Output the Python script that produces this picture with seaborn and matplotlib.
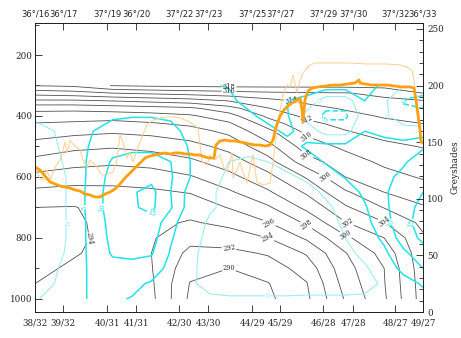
import numpy as np
import matplotlib
matplotlib.use("Agg")
import matplotlib.pyplot as plt
from matplotlib.ticker import MultipleLocator
import seaborn as sns

# ---------------------------------------------------------------- axis texts
top_labels = ["36°/16", "36°/17", "37°/19", "36°/20", "37°/22", "37°/23",
              "37°/25", "37°/27", "37°/29", "37°/30", "37°/32", "36°/33"]
bottom_labels = ["38/32", "39/32", "40/31", "41/31", "42/30", "43/30",
                 "44/29", "45/29", "46/28", "47/28", "48/27", "49/27"]
label_km = [0, 140, 360, 505, 720, 865, 1085, 1225, 1440, 1590, 1800, 1940]

# ------------------------------------------------ potential temperature (K)
theta_p = [300, 325, 350, 375, 400, 425, 450, 500, 550, 600,
           650, 700, 750, 800, 850, 900, 950, 1000]
theta_km = np.linspace(0, 1940, 11)
theta = np.array([
    [316.1, 316.4, 318.1, 318.4, 318.5, 318.6, 318.6, 318.6, 318.6, 318.7, 319.0],
    [312.8, 313.2, 314.0, 314.4, 314.8, 315.2, 315.6, 315.8, 315.9, 316.5, 318.0],
    [309.7, 309.7, 310.1, 310.6, 311.1, 312.1, 313.4, 314.4, 315.0, 315.6, 315.9],
    [306.6, 306.6, 306.9, 307.2, 307.6, 309.2, 311.9, 313.4, 314.2, 314.9, 315.3],
    [305.1, 304.9, 304.9, 305.2, 305.7, 307.2, 310.4, 312.5, 313.4, 314.2, 314.6],
    [303.9, 303.7, 303.4, 303.8, 304.4, 305.7, 308.9, 311.5, 312.6, 313.5, 314.0],
    [303.0, 302.6, 302.3, 302.6, 303.2, 304.5, 307.5, 310.5, 311.9, 312.8, 313.3],
    [301.2, 300.5, 300.2, 300.6, 301.3, 302.6, 305.3, 309.0, 310.4, 311.5, 312.1],
    [299.4, 298.7, 298.4, 298.8, 299.6, 301.0, 303.2, 307.2, 309.1, 310.4, 311.1],
    [297.4, 296.9, 296.7, 296.9, 297.8, 299.4, 301.4, 304.2, 308.0, 309.3, 310.2],
    [295.5, 295.3, 295.5, 295.7, 296.1, 297.7, 299.7, 302.3, 305.7, 308.0, 309.0],
    [294.0, 293.9, 294.8, 295.0, 294.9, 296.1, 297.7, 300.5, 303.7, 306.1, 307.8],
    [293.7, 293.8, 294.4, 294.5, 293.8, 294.5, 295.9, 298.3, 301.9, 303.9, 306.5],
    [293.6, 293.8, 294.3, 294.2, 292.6, 293.0, 294.0, 296.3, 299.6, 302.0, 305.7],
    [293.6, 293.9, 294.4, 294.0, 291.5, 291.5, 292.2, 294.2, 297.9, 300.7, 305.4],
    [293.7, 294.2, 294.7, 294.1, 290.7, 290.0, 291.0, 292.8, 297.3, 300.0, 305.2],
    [294.0, 294.6, 295.1, 294.3, 289.9, 289.5, 289.9, 291.9, 296.8, 299.9, 305.0],
    [294.6, 295.0, 295.5, 294.5, 289.6, 289.2, 289.6, 291.6, 296.2, 299.7, 304.9],
])

# ------------------------------------------------------ cyan field values
w_p = [300, 350, 400, 450, 500, 550, 600, 650, 700, 750, 800, 850, 900, 950, 1000]
w_km = np.linspace(0, 1940, 21)
w = np.array([
    [1, 1.5, 2, 2, 2.5, 2.5, 2.5, 2.5, 3, 4.5, 5.3, 7, 7, 7, 7, 8, 8, 7, 4, 0, -3],
    [1, 1.5, 2, 2.5, 3, 3, 3, 3, 3, 4, 4, 6.5, 6, 5, 4, -3, -3, 5, 1, -5.5, -6],
    [0.5, 1, 2.5, 3.5, 4.5, 4.8, 4.8, 4.5, 3.5, 3.5, 3, 4, 6.5, 5.5, -2, -6, -6, 3, 1, -3, -4],
    [-1, 0, 2.5, 5, 6.5, 7, 7, 6, 4, 3, 2.5, 2, 3.5, 6, 3, -2, -2, 5, 4, 2, 2],
    [-1.5, -0.5, 2, 6, 8.5, 9, 9, 8, 4.5, 2, 1.5, 1, 1.5, 3, 5.7, 6.5, 6.5, 6.5, 6.5, 7, 9.5],
    [-2, -1, 1.5, 7, 10.5, 11.5, 11.5, 10, 5, 1.5, 0, -0.5, 0, 1, 2.5, 5.5, 7, 7, 8, 9.5, 12],
    [-2, -1.5, 1, 7.5, 11.5, 13, 13.5, 10.5, 5, 1, -0.5, -1, -1, -0.5, 0.5, 2.5, 5.3, 7, 9, 11, 13.5],
    [-2, -1.5, 1, 8, 12, 14.5, 16.5, 10, 3, 0.5, -1, -1.5, -1.5, -1, -1, 0.5, 2.5, 6, 9.5, 12, 15],
    [-2, -1.5, 1, 8, 12, 14.5, 16, 10.5, 2.5, 0.5, -1, -1.5, -1.5, -1, -1.5, -0.5, 1, 4.5, 9, 13, 16.5],
    [-2, -1.5, 1, 7.5, 11.5, 13.5, 13.5, 6.5, 2, -0.5, -1.5, -2, -2, -2, -2, -1, 0.5, 3.5, 8, 13.5, 17],
    [-2, -1.5, 1, 7.5, 11, 12.5, 12, 5.5, 1.5, -1, -2, -2.5, -2.5, -2.5, -2.5, -1.5, 0, 2.5, 6, 12.5, 16],
    [-2, -1.5, 1.5, 7, 10.5, 11, 10.5, 4.5, 1, -1.5, -2.5, -3, -3, -3, -3, -2, -1, 1, 4, 9, 13],
    [-1.5, -0.5, 2, 6.5, 8.5, 8.5, 7.5, 3.5, 0.8, -1.5, -2.5, -3, -3, -3, -3, -2.5, -2, -0.5, 2, 6.5, 10],
    [-0.5, 0, 3, 6, 6.5, 6, 4.5, 2.5, 0.5, -1, -2, -2, -2, -2, -1.5, -1.5, -1.5, -1, 0.5, 3, 5.5],
    [-0.3, 1, 4, 5.5, 5.5, 4.8, 3, 2, 1, 0.5, 0.5, 0.5, 0.5, 0.5, 0.5, 0.5, 0.5, 0.5, 1, 2, 3.5],
])

# ------------------------------------------------------ greyshade profiles
thick_km = [0, 25, 50, 75, 100, 125, 150, 175, 200, 225, 250, 275, 300, 325, 350,
            375, 400, 425, 450, 475, 500, 525, 550, 575, 600, 625, 650, 675, 700,
            725, 750, 775, 800, 825, 850, 875, 895, 905, 925, 950, 975, 1000, 1025,
            1050, 1075, 1100, 1125, 1150, 1175, 1190, 1205, 1225, 1245, 1265, 1285,
            1305, 1325, 1335, 1340, 1350, 1365, 1385, 1415, 1450, 1490, 1525, 1560,
            1600, 1620, 1625, 1650, 1685, 1725, 1760, 1800, 1835, 1875, 1895, 1905,
            1915, 1925, 1930, 1940]
thick_grey = [128.1, 125.4, 120.1, 114.8, 113.1, 111.3, 110.4, 109.5, 107.8, 106.9,
              104.2, 103.4, 101.6, 101.6, 104.2, 106.0, 108.7, 113.1, 118.4, 122.8,
              127.2, 131.6, 136.0, 137.8, 138.7, 139.6, 140.5, 139.6, 140.5, 140.5,
              139.6, 139.6, 138.7, 138.7, 136.9, 136.0, 136.0, 147.5, 151.1, 151.9,
              151.1, 151.1, 150.2, 149.3, 148.4, 147.5, 147.5, 146.6, 147.5, 151.9,
              163.4, 173.1, 178.4, 182.0, 184.6, 186.4, 189.0, 178.4, 168.7, 187.3,
              195.2, 197.9, 198.8, 199.6, 200.5, 200.5, 201.4, 202.3, 205.0, 202.3,
              201.4, 200.5, 200.5, 200.5, 199.6, 198.8, 198.8, 197.9, 187.3, 174.0,
              160.8, 150.2, 149.3]

thin_km = [0, 15, 25, 40, 60, 75, 100, 125, 140, 150, 160, 175, 185, 210, 225, 240,
           260, 275, 300, 325, 340, 360, 390, 410, 425, 440, 460, 475, 490, 510, 525,
           545, 560, 590, 625, 660, 700, 725, 775, 815, 825, 835, 860, 875, 900, 925,
           945, 960, 985, 990, 1010, 1025, 1045, 1060, 1075, 1090, 1110, 1140, 1175,
           1190, 1210, 1225, 1240, 1260, 1275, 1290, 1310, 1325, 1340, 1360, 1375,
           1400, 1490, 1575, 1660, 1760, 1825, 1860, 1885, 1895, 1905, 1915, 1925, 1940]
thin_grey = [129.9, 121.0, 118.4, 116.6, 125.4, 116.6, 128.1, 134.3, 143.1, 150.2,
             140.5, 151.9, 149.3, 144.9, 143.1, 134.3, 128.1, 134.3, 129.9, 123.7,
             121.0, 121.9, 123.7, 134.3, 156.4, 150.2, 136.0, 141.3, 132.5, 143.1,
             150.2, 159.0, 165.2, 169.6, 171.4, 172.3, 172.3, 171.4, 167.8, 162.5,
             147.5, 132.5, 129.9, 138.7, 134.3, 138.7, 127.2, 123.7, 140.5, 118.4,
             125.4, 132.5, 121.0, 114.0, 127.2, 138.7, 114.8, 112.2, 114.0, 132.5,
             162.5, 178.4, 191.7, 200.5, 198.8, 209.4, 193.5, 205.0, 211.1, 215.5,
             218.2, 220.0, 220.0, 220.0, 219.1, 219.1, 218.2, 216.4, 213.8, 205.0,
             187.3, 169.6, 156.4, 149.3]

# ------------------------------------------------------------------ styling
sns.set_theme(style="ticks")
plt.rcParams["font.family"] = ["DejaVu Serif"]
plt.rcParams["axes.linewidth"] = 0.7
plt.rcParams["axes.edgecolor"] = "#222222"

fig = plt.figure(figsize=(4.61, 3.38), dpi=100)
ax = fig.add_axes([35 / 461, 26 / 338, 388 / 461, 289 / 338])
ax.set_facecolor("white")

# isentropes
cs = ax.contour(theta_km, theta_p, theta, levels=np.arange(290, 320, 2),
                colors="#505050", linewidths=0.6)
ax.clabel(cs, fmt="%d", fontsize=4.8, inline=True, inline_spacing=1,
          colors="#303030")

# cyan field: zero line thin, other levels thick, negatives dashed
w_levels = [-5, 0, 5, 10, 15]
cw = ax.contour(w_km, w_p, w, levels=w_levels,
                colors=["#22e2ea", "#8eecf2", "#22e2ea", "#22e2ea", "#22e2ea"],
                linewidths=[1.1, 0.7, 1.1, 1.1, 1.1],
                linestyles=["--", "-", "-", "-", "-"])
ax.clabel(cw, fmt="%d", fontsize=4.8, inline=True, inline_spacing=1)

ax.set_xlim(0, 1940)
ax.set_ylim(1043, 95)
ax.set_yticks([200, 400, 600, 800, 1000])
ax.yaxis.set_minor_locator(MultipleLocator(100))
ax.set_xticks(label_km)
ax.set_xticklabels(bottom_labels, fontsize=6.3)
ax.tick_params(axis="y", labelsize=6.3, pad=2)
ax.tick_params(axis="x", pad=4.5)
ax.tick_params(which="both", direction="in", color="#222222", width=0.6)
ax.tick_params(which="major", length=5)
ax.tick_params(which="minor", length=3)
ax.tick_params(axis="x", which="minor", bottom=False, top=False)

top = ax.secondary_xaxis("top")
top.set_xticks(label_km)
top.set_xticklabels(top_labels, fontsize=6.0, fontfamily="DejaVu Sans")
top.tick_params(direction="in", length=5, width=0.6, pad=3.5, color="#222222")

# greyshade profiles on the right-hand scale
ax2 = ax.twinx()
sns.lineplot(x=thin_km, y=thin_grey, ax=ax2, color="#ffcf8f", linewidth=0.7,
             estimator=None, sort=False)
sns.lineplot(x=thick_km, y=thick_grey, ax=ax2, color="#ffa010", linewidth=2.0,
             estimator=None, sort=False)
ax2.set_ylim(0, 255.3)
ax2.set_xlim(0, 1940)
ax2.set_yticks([0, 50, 100, 150, 200, 250])
ax2.yaxis.set_minor_locator(MultipleLocator(10))
ax2.tick_params(axis="y", labelsize=6.3, pad=3)
ax2.tick_params(which="both", direction="in", color="#222222", width=0.6)
ax2.tick_params(which="major", length=5)
ax2.tick_params(which="minor", length=3)
ax2.set_ylabel("Greyshades", fontsize=6.5, labelpad=5)

fig.savefig("out.png", dpi=100)
